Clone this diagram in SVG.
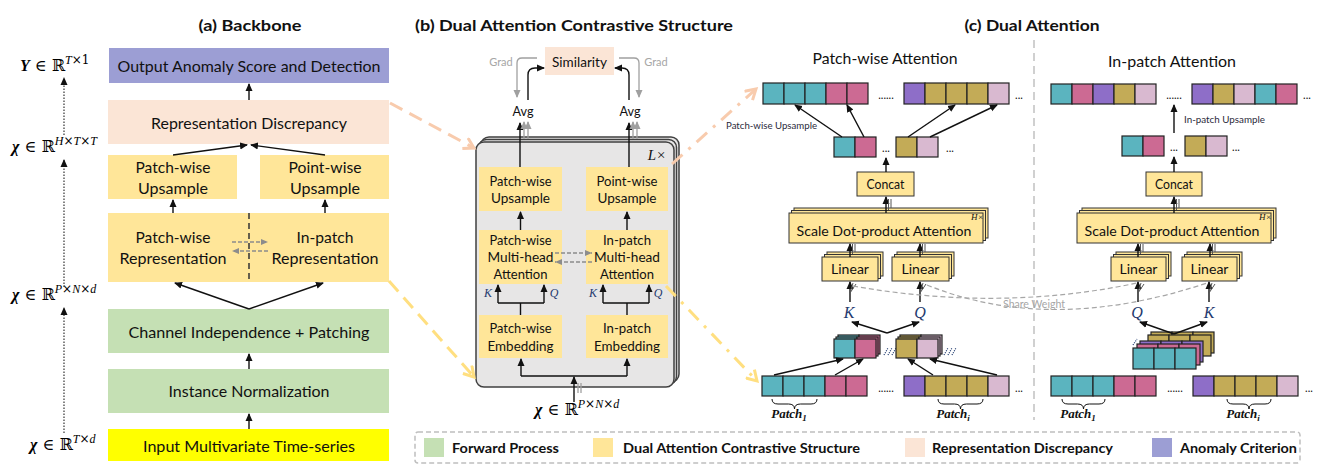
<svg xmlns="http://www.w3.org/2000/svg" width="1341" height="473" viewBox="0 0 1341 473">
<defs>
<style>
text{font-family:Lato,"Open Sans","Liberation Sans",sans-serif;fill:#111;}
.c{text-anchor:middle;dominant-baseline:central;}
.title{font-size:16px;font-weight:700;}
.f15{font-size:15px;}
.f14{font-size:14px;}
.f13{font-size:13.5px;}
.sm{font-size:9.5px;fill:#2a2a3a;}
.gr{font-size:11px;fill:#a6a6a6;}
.dots{font-size:11px;fill:#111;}
.math{font-family:"DejaVu Serif","Liberation Serif",serif;font-size:16px;fill:#000;}
.sup{font-size:12px;}
.var{font-family:"Liberation Serif","DejaVu Serif",serif;font-style:italic;}
.kq{font-family:"Liberation Serif","DejaVu Serif",serif;font-style:italic;fill:#1f3a6e;}
.pt{font-family:"Liberation Serif","DejaVu Serif",serif;font-style:italic;font-weight:700;font-size:13px;fill:#111;text-anchor:middle;}
.leg{font-size:14px;font-weight:700;dominant-baseline:central;}
.pur{fill:#9c9ed4}.pea{fill:#fbe5d6}.yel{fill:#ffe699}.grn{fill:#c5e0b4}.ylw{fill:#ffff00}
.ln{stroke:#111;stroke-width:1.4;fill:none}
.lg{stroke:#a0a0a0;stroke-width:1.3;fill:none}
.dg{stroke:#8c8c8c;stroke-width:1.3;fill:none;stroke-dasharray:4 2}
.cell{stroke:#222;stroke-width:1.2}
.T{fill:#5bb4bf}.P{fill:#cc6a93}.U{fill:#8e6ec8}.O{fill:#c3ab57}.L{fill:#d9b9d0}
.bx{fill:#ffe699;stroke:#333;stroke-width:1}
.stk{fill:#e7e6e6;stroke:#404040;stroke-width:1.5}
.brace{stroke:#111;stroke-width:1;fill:none}
</style>
<marker id="ah" markerWidth="8" markerHeight="8" refX="7" refY="4" orient="auto" markerUnits="userSpaceOnUse"><path d="M0,0.5 L8,4 L0,7.5 z" fill="#111"/></marker>
<marker id="ahg" markerWidth="8" markerHeight="8" refX="7" refY="4" orient="auto" markerUnits="userSpaceOnUse"><path d="M0,0.5 L8,4 L0,7.5 z" fill="#a0a0a0"/></marker>
<marker id="ahd" markerWidth="8" markerHeight="8" refX="7" refY="4" orient="auto" markerUnits="userSpaceOnUse"><path d="M0,1 L7,4 L0,7 z" fill="#8c8c8c"/></marker>
<marker id="chp" markerWidth="14" markerHeight="14" refX="11" refY="7" orient="auto" markerUnits="userSpaceOnUse"><path d="M1,1 L11,7 L1,13" fill="none" stroke="#f8cbad" stroke-width="3"/></marker>
<marker id="chy" markerWidth="14" markerHeight="14" refX="11" refY="7" orient="auto" markerUnits="userSpaceOnUse"><path d="M1,1 L11,7 L1,13" fill="none" stroke="#ffdf80" stroke-width="3"/></marker>
</defs>
<rect width="1341" height="473" fill="#fff"/>

<!-- Panel (a) -->
<g id="a-title"><text class="title c" x="250" y="24" textLength="103" lengthAdjust="spacingAndGlyphs">(a) Backbone</text></g>
<g id="a-output"><rect x="109" y="48" width="280" height="35" class="pur"/><text class="c f15" x="249" y="66" textLength="263" lengthAdjust="spacingAndGlyphs">Output Anomaly Score and Detection</text></g>
<g id="a-repdisc"><rect x="108" y="100" width="281" height="44" class="pea"/><text class="c f15" x="249" y="123" textLength="196" lengthAdjust="spacingAndGlyphs">Representation Discrepancy</text></g>
<g id="a-pw-up"><rect x="108" y="155" width="129" height="44" class="yel"/><text class="c f15" x="173" y="167" textLength="75" lengthAdjust="spacingAndGlyphs">Patch-wise</text><text class="c f15" x="173" y="188" textLength="70" lengthAdjust="spacingAndGlyphs">Upsample</text></g>
<g id="a-pt-up"><rect x="260" y="155" width="129" height="44" class="yel"/><text class="c f15" x="325" y="167" textLength="73" lengthAdjust="spacingAndGlyphs">Point-wise</text><text class="c f15" x="325" y="188" textLength="70" lengthAdjust="spacingAndGlyphs">Upsample</text></g>
<g id="a-repr"><rect x="108" y="213" width="281" height="69" class="yel"/>
<line x1="249" y1="213" x2="249" y2="282" stroke="#333" stroke-width="1.5" stroke-dasharray="6 4"/>
<text class="c f15" x="173" y="237" textLength="75" lengthAdjust="spacingAndGlyphs">Patch-wise</text><text class="c f15" x="173" y="258" textLength="107" lengthAdjust="spacingAndGlyphs">Representation</text>
<text class="c f15" x="325" y="237" textLength="57" lengthAdjust="spacingAndGlyphs">In-patch</text><text class="c f15" x="325" y="258" textLength="107" lengthAdjust="spacingAndGlyphs">Representation</text>
<line class="dg" x1="232" y1="242" x2="268" y2="242" marker-end="url(#ahd)"/><line class="dg" x1="268" y1="251" x2="232" y2="251" marker-end="url(#ahd)"/>
</g>
<g id="a-ci"><rect x="108" y="309" width="281" height="44" class="grn"/><text class="c f15" x="249" y="332" textLength="241" lengthAdjust="spacingAndGlyphs">Channel Independence + Patching</text></g>
<g id="a-in"><rect x="108" y="369" width="281" height="44" class="grn"/><text class="c f15" x="249" y="391" textLength="161" lengthAdjust="spacingAndGlyphs">Instance Normalization</text></g>
<g id="a-input"><rect x="108" y="429" width="281" height="32" class="ylw"/><text class="c f15" x="249" y="446" textLength="212" lengthAdjust="spacingAndGlyphs">Input Multivariate Time-series</text></g>

<g id="a-dims">
<text class="math" x="20" y="71"><tspan class="var" font-weight="700">Y</tspan> ∈ ℝ<tspan class="var sup" dy="-7">T</tspan><tspan class="sup">×1</tspan></text>
<text class="math" x="12" y="152"><tspan class="var" font-weight="700">χ</tspan> ∈ ℝ<tspan class="var sup" dy="-7">H</tspan><tspan class="sup">×</tspan><tspan class="var sup">T</tspan><tspan class="sup">×</tspan><tspan class="var sup">T</tspan></text>
<text class="math" x="12" y="300"><tspan class="var" font-weight="700">χ</tspan> ∈ ℝ<tspan class="var sup" dy="-7">P</tspan><tspan class="sup">×</tspan><tspan class="var sup">N</tspan><tspan class="sup">×</tspan><tspan class="var sup">d</tspan></text>
<text class="math" x="30" y="450"><tspan class="var" font-weight="700">χ</tspan> ∈ ℝ<tspan class="var sup" dy="-7">T</tspan><tspan class="sup">×</tspan><tspan class="var sup">d</tspan></text>
</g>

<!-- Panel (b) -->
<g id="b-title"><text class="title c" x="574" y="24" textLength="318" lengthAdjust="spacingAndGlyphs">(b) Dual Attention Contrastive Structure</text></g>
<g id="b-stack">
<rect x="481" y="137" width="198" height="245" rx="8" class="stk"/>
<rect x="478.5" y="139.5" width="198" height="245" rx="8" class="stk"/>
<rect x="476" y="142" width="198" height="245" rx="8" class="stk"/>
<text class="var c" x="657" y="155" font-size="15" fill="#111">L×</text>
</g>
<g id="b-sim"><rect x="545" y="47" width="69" height="28" class="pea"/><text class="c f14" x="579.5" y="61" textLength="55" lengthAdjust="spacingAndGlyphs">Similarity</text></g>
<g id="b-grad"><text class="gr c" x="501" y="61">Grad</text><text class="gr c" x="656" y="61">Grad</text></g>
<g id="b-avg1"><text class="c f14" x="523" y="110" textLength="21" lengthAdjust="spacingAndGlyphs">Avg</text></g>
<g id="b-avg2"><text class="c f14" x="630" y="110" textLength="21" lengthAdjust="spacingAndGlyphs">Avg</text></g>
<g id="b-pw-up"><rect x="479" y="167" width="83" height="44" class="yel"/><text class="c f13" x="520.5" y="181" textLength="62" lengthAdjust="spacingAndGlyphs">Patch-wise</text><text class="c f13" x="520.5" y="198" textLength="59" lengthAdjust="spacingAndGlyphs">Upsample</text></g>
<g id="b-pt-up"><rect x="586" y="167" width="82" height="44" class="yel"/><text class="c f13" x="627" y="181" textLength="61" lengthAdjust="spacingAndGlyphs">Point-wise</text><text class="c f13" x="627" y="198" textLength="59" lengthAdjust="spacingAndGlyphs">Upsample</text></g>
<g id="b-pw-att"><rect x="479" y="230" width="83" height="54" class="yel"/><text class="c f13" x="520.5" y="240" textLength="62" lengthAdjust="spacingAndGlyphs">Patch-wise</text><text class="c f13" x="520.5" y="257" textLength="66" lengthAdjust="spacingAndGlyphs">Multi-head</text><text class="c f13" x="520.5" y="274" textLength="54" lengthAdjust="spacingAndGlyphs">Attention</text></g>
<g id="b-ip-att"><rect x="586" y="230" width="82" height="54" class="yel"/><text class="c f13" x="627" y="240" textLength="48" lengthAdjust="spacingAndGlyphs">In-patch</text><text class="c f13" x="627" y="257" textLength="66" lengthAdjust="spacingAndGlyphs">Multi-head</text><text class="c f13" x="627" y="274" textLength="54" lengthAdjust="spacingAndGlyphs">Attention</text></g>
<g id="b-pw-emb"><rect x="479" y="315" width="83" height="43" class="yel"/><text class="c f13" x="520.5" y="328" textLength="62" lengthAdjust="spacingAndGlyphs">Patch-wise</text><text class="c f13" x="520.5" y="346" textLength="66" lengthAdjust="spacingAndGlyphs">Embedding</text></g>
<g id="b-ip-emb"><rect x="586" y="315" width="82" height="43" class="yel"/><text class="c f13" x="627" y="328" textLength="48" lengthAdjust="spacingAndGlyphs">In-patch</text><text class="c f13" x="627" y="346" textLength="66" lengthAdjust="spacingAndGlyphs">Embedding</text></g>
<g id="b-kq"><text class="kq c" x="488" y="293" font-size="12">K</text><text class="kq c" x="554" y="293" font-size="12">Q</text><text class="kq c" x="593" y="293" font-size="12">K</text><text class="kq c" x="658" y="293" font-size="12">Q</text></g>
<g id="b-input"><text class="math" x="535" y="415"><tspan class="var" font-weight="700">χ</tspan> ∈ ℝ<tspan class="var sup" dy="-7">P</tspan><tspan class="sup">×</tspan><tspan class="var sup">N</tspan><tspan class="sup">×</tspan><tspan class="var sup">d</tspan></text></g>

<!-- Panel (c) -->
<g id="c-title"><text class="title c" x="1032" y="24" textLength="135" lengthAdjust="spacingAndGlyphs">(c) Dual Attention</text></g>
<g id="c-divider"><line x1="1034" y1="40" x2="1034" y2="420" stroke="#d0d0d0" stroke-width="2" stroke-dasharray="8 5"/></g>
<g id="c-pw-head"><text class="c f15" x="885" y="58" textLength="145" lengthAdjust="spacingAndGlyphs">Patch-wise Attention</text></g>
<g id="c-ip-head"><text class="c f15" x="1172" y="61" textLength="128" lengthAdjust="spacingAndGlyphs">In-patch Attention</text></g>

<g id="c-pw-top">
<rect class="cell T" x="763" y="83" width="21" height="21"/><rect class="cell T" x="784" y="83" width="21" height="21"/><rect class="cell T" x="805" y="83" width="21" height="21"/><rect class="cell P" x="826" y="83" width="21" height="21"/><rect class="cell P" x="847" y="83" width="21" height="21"/>
<text class="dots" x="886" y="99" text-anchor="middle">......</text>
<rect class="cell U" x="904" y="83" width="21" height="21"/><rect class="cell O" x="925" y="83" width="21" height="21"/><rect class="cell O" x="946" y="83" width="21" height="21"/><rect class="cell O" x="967" y="83" width="21" height="21"/><rect class="cell L" x="988" y="83" width="21" height="21"/>
<text class="dots" x="1019" y="99" text-anchor="middle">...</text>
</g>
<g id="c-pw-upsample-label"><text class="sm" x="726" y="129" textLength="91" lengthAdjust="spacingAndGlyphs">Patch-wise Upsample</text></g>
<g id="c-pw-mid">
<rect class="cell T" x="834" y="137" width="21" height="20"/><rect class="cell P" x="855" y="137" width="21" height="20"/>
<text class="dots" x="886" y="152" text-anchor="middle">...</text>
<rect class="cell O" x="896" y="137" width="21" height="20"/><rect class="cell L" x="917" y="137" width="21" height="20"/>
<text class="dots" x="950" y="152" text-anchor="middle">...</text>
</g>
<g id="c-pw-concat"><rect class="bx" x="857" y="172" width="57" height="24"/><text class="c f13" x="885.5" y="184" textLength="38" lengthAdjust="spacingAndGlyphs">Concat</text></g>
<g id="c-pw-sdpa">
<rect class="bx" x="794" y="208" width="194" height="30"/><rect class="bx" x="791.5" y="210.5" width="194" height="30"/><rect class="bx" x="789" y="213" width="194" height="30"/>
<text class="c f14" x="884" y="230" textLength="175" lengthAdjust="spacingAndGlyphs">Scale Dot-product Attention</text>
<text class="var" x="971" y="220" font-size="9" fill="#111">H×</text>
</g>
<g id="c-pw-lin-k"><rect class="bx" x="827" y="252" width="56" height="24"/><rect class="bx" x="824.5" y="254.5" width="56" height="24"/><rect class="bx" x="822" y="257" width="56" height="24"/><text class="c f13" x="850" y="269" textLength="38" lengthAdjust="spacingAndGlyphs">Linear</text></g>
<g id="c-pw-lin-q"><rect class="bx" x="897" y="252" width="57" height="24"/><rect class="bx" x="894.5" y="254.5" width="57" height="24"/><rect class="bx" x="892" y="257" width="57" height="24"/><text class="c f13" x="920.5" y="269" textLength="38" lengthAdjust="spacingAndGlyphs">Linear</text></g>
<g id="c-pw-kq"><text class="kq c" x="849" y="312" font-size="16">K</text><text class="kq c" x="920" y="312" font-size="16">Q</text></g>
<g id="c-pw-stack">
<rect class="cell T" x="838" y="335" width="21" height="19"/><rect class="cell P" x="859" y="335" width="21" height="19"/>
<rect class="cell T" x="836" y="337" width="21" height="19"/><rect class="cell P" x="857" y="337" width="21" height="19"/>
<rect class="cell T" x="834" y="339" width="21" height="19"/><rect class="cell P" x="855" y="339" width="21" height="19"/>
<path d="M884,355 L888,348 M888,355 L892,348 M892,355 L896,348" stroke="#1f3a6e" stroke-width="1.2" stroke-dasharray="1 1.2" fill="none"/>
<rect class="cell O" x="900" y="335" width="21" height="19"/><rect class="cell L" x="921" y="335" width="21" height="19"/>
<rect class="cell O" x="898" y="337" width="21" height="19"/><rect class="cell L" x="919" y="337" width="21" height="19"/>
<rect class="cell O" x="896" y="339" width="21" height="19"/><rect class="cell L" x="917" y="339" width="21" height="19"/>
<path d="M944,355 L948,348 M948,355 L952,348 M952,355 L956,348" stroke="#1f3a6e" stroke-width="1.2" stroke-dasharray="1 1.2" fill="none"/>
</g>
<g id="c-pw-bottom">
<rect class="cell T" x="762" y="376" width="21" height="20"/><rect class="cell T" x="783" y="376" width="21" height="20"/><rect class="cell T" x="804" y="376" width="21" height="20"/><rect class="cell P" x="825" y="376" width="21" height="20"/><rect class="cell P" x="846" y="376" width="21" height="20"/>
<text class="dots" x="886" y="392" text-anchor="middle">......</text>
<rect class="cell U" x="904" y="376" width="21" height="20"/><rect class="cell O" x="925" y="376" width="21" height="20"/><rect class="cell O" x="946" y="376" width="21" height="20"/><rect class="cell O" x="967" y="376" width="21" height="20"/><rect class="cell L" x="988" y="376" width="21" height="20"/>
<text class="dots" x="1019" y="392" text-anchor="middle">...</text>
<path class="brace" d="M772,399 Q772,404 778,404 L788.5,404 Q794.5,404 794.5,409 Q794.5,404 800.5,404 L811,404 Q817,404 817,399"/>
<path class="brace" d="M938,399 Q938,404 944,404 L954.5,404 Q960.5,404 960.5,409 Q960.5,404 966.5,404 L977,404 Q983,404 983,399"/>
<text class="pt" x="789" y="418">Patch<tspan font-size="9" dy="3">1</tspan></text>
<text class="pt" x="953" y="418">Patch<tspan font-size="9" dy="3">i</tspan></text>
</g>

<g id="c-ip-top">
<rect class="cell T" x="1051" y="84" width="21" height="20"/><rect class="cell P" x="1072" y="84" width="21" height="20"/><rect class="cell U" x="1093" y="84" width="21" height="20"/><rect class="cell O" x="1114" y="84" width="21" height="20"/><rect class="cell L" x="1135" y="84" width="21" height="20"/>
<text class="dots" x="1174" y="99" text-anchor="middle">......</text>
<rect class="cell U" x="1192" y="84" width="21" height="20"/><rect class="cell O" x="1213" y="84" width="21" height="20"/><rect class="cell L" x="1234" y="84" width="21" height="20"/><rect class="cell T" x="1255" y="84" width="21" height="20"/><rect class="cell P" x="1276" y="84" width="21" height="20"/>
<text class="dots" x="1307" y="99" text-anchor="middle">...</text>
</g>
<g id="c-ip-upsample-label"><text class="sm" x="1184" y="123" textLength="81" lengthAdjust="spacingAndGlyphs">In-patch Upsample</text></g>
<g id="c-ip-mid">
<rect class="cell T" x="1122" y="136" width="21" height="20"/><rect class="cell P" x="1143" y="136" width="21" height="20"/>
<text class="dots" x="1174" y="151" text-anchor="middle">...</text>
<rect class="cell O" x="1185" y="136" width="21" height="20"/><rect class="cell L" x="1206" y="136" width="21" height="20"/>
<text class="dots" x="1236" y="151" text-anchor="middle">...</text>
</g>
<g id="c-ip-concat"><rect class="bx" x="1146" y="172" width="56" height="24"/><text class="c f13" x="1174" y="184" textLength="38" lengthAdjust="spacingAndGlyphs">Concat</text></g>
<g id="c-ip-sdpa">
<rect class="bx" x="1082" y="208" width="194" height="30"/><rect class="bx" x="1079.5" y="210.5" width="194" height="30"/><rect class="bx" x="1077" y="213" width="194" height="30"/>
<text class="c f14" x="1172" y="230" textLength="175" lengthAdjust="spacingAndGlyphs">Scale Dot-product Attention</text>
<text class="var" x="1259" y="220" font-size="9" fill="#111">H×</text>
</g>
<g id="c-ip-lin-q"><rect class="bx" x="1116" y="252" width="55" height="24"/><rect class="bx" x="1113.5" y="254.5" width="55" height="24"/><rect class="bx" x="1111" y="257" width="55" height="24"/><text class="c f13" x="1138.5" y="269" textLength="38" lengthAdjust="spacingAndGlyphs">Linear</text></g>
<g id="c-ip-lin-k"><rect class="bx" x="1187" y="252" width="55" height="24"/><rect class="bx" x="1184.5" y="254.5" width="55" height="24"/><rect class="bx" x="1182" y="257" width="55" height="24"/><text class="c f13" x="1209.5" y="269" textLength="38" lengthAdjust="spacingAndGlyphs">Linear</text></g>
<g id="c-ip-kq"><text class="kq c" x="1137" y="312" font-size="16">Q</text><text class="kq c" x="1209" y="312" font-size="16">K</text></g>
<g id="c-ip-stack">
<rect class="cell O" x="1151" y="332" width="21" height="21"/><rect class="cell O" x="1172" y="332" width="21" height="21"/><rect class="cell O" x="1193" y="332" width="21" height="21"/>
<rect class="cell O" x="1148" y="335" width="21" height="21"/><rect class="cell O" x="1169" y="335" width="21" height="21"/><rect class="cell O" x="1190" y="335" width="21" height="21"/>
<rect class="cell U" x="1140" y="341" width="21" height="21"/><rect class="cell U" x="1161" y="341" width="21" height="21"/><rect class="cell U" x="1182" y="341" width="21" height="21"/>
<rect class="cell P" x="1137" y="344" width="21" height="21"/><rect class="cell P" x="1158" y="344" width="21" height="21"/><rect class="cell P" x="1179" y="344" width="21" height="21"/>
<rect class="cell T" x="1133" y="348" width="21" height="21"/><rect class="cell T" x="1154" y="348" width="21" height="21"/><rect class="cell T" x="1175" y="348" width="21" height="21"/>
<path d="M1133,345 L1137,339" stroke="#1f3a6e" stroke-width="1.2" stroke-dasharray="1 1.2" fill="none"/>
</g>
<g id="c-ip-bottom">
<rect class="cell T" x="1051" y="376" width="21" height="20"/><rect class="cell T" x="1072" y="376" width="21" height="20"/><rect class="cell T" x="1093" y="376" width="21" height="20"/><rect class="cell P" x="1114" y="376" width="21" height="20"/><rect class="cell P" x="1135" y="376" width="21" height="20"/>
<text class="dots" x="1175" y="392" text-anchor="middle">......</text>
<rect class="cell U" x="1193" y="376" width="21" height="20"/><rect class="cell O" x="1214" y="376" width="21" height="20"/><rect class="cell O" x="1235" y="376" width="21" height="20"/><rect class="cell O" x="1256" y="376" width="21" height="20"/><rect class="cell L" x="1277" y="376" width="21" height="20"/>
<text class="dots" x="1309" y="392" text-anchor="middle">...</text>
<path class="brace" d="M1062,399 Q1062,404 1068,404 L1077.5,404 Q1083.5,404 1083.5,409 Q1083.5,404 1089.5,404 L1099,404 Q1105,404 1105,399"/>
<path class="brace" d="M1227,399 Q1227,404 1233,404 L1243,404 Q1249,404 1249,409 Q1249,404 1255,404 L1265,404 Q1271,404 1271,399"/>
<text class="pt" x="1078" y="418">Patch<tspan font-size="9" dy="3">1</tspan></text>
<text class="pt" x="1243" y="418">Patch<tspan font-size="9" dy="3">i</tspan></text>
</g>

<g id="legend">
<rect x="415" y="432" width="885" height="31" rx="3" fill="none" stroke="#bfbfbf" stroke-width="1.5" stroke-dasharray="5 3"/>
<rect x="424" y="438" width="20" height="19" class="grn"/><text class="leg" x="452" y="447" textLength="107" lengthAdjust="spacingAndGlyphs">Forward Process</text>
<rect x="593" y="438" width="20" height="19" class="yel"/><text class="leg" x="623" y="447" textLength="237" lengthAdjust="spacingAndGlyphs">Dual Attention Contrastive Structure</text>
<rect x="905" y="438" width="20" height="19" class="pea"/><text class="leg" x="932" y="447" textLength="181" lengthAdjust="spacingAndGlyphs">Representation Discrepancy</text>
<rect x="1152" y="438" width="20" height="19" class="pur"/><text class="leg" x="1180" y="447" textLength="117" lengthAdjust="spacingAndGlyphs">Anomaly Criterion</text>
</g>

<g id="connectors">
<!-- (a) -->
<line class="ln" x1="249" y1="100" x2="249" y2="84" marker-end="url(#ah)"/>
<line class="ln" x1="173" y1="155" x2="247" y2="145" marker-end="url(#ah)"/>
<line class="ln" x1="325" y1="155" x2="251" y2="145" marker-end="url(#ah)"/>
<line class="ln" x1="173" y1="213" x2="173" y2="200" marker-end="url(#ah)"/>
<line class="ln" x1="325" y1="213" x2="325" y2="200" marker-end="url(#ah)"/>
<line class="ln" x1="249" y1="309" x2="175" y2="283" marker-end="url(#ah)"/>
<line class="ln" x1="249" y1="309" x2="323" y2="283" marker-end="url(#ah)"/>
<line class="ln" x1="249" y1="369" x2="249" y2="354" marker-end="url(#ah)"/>
<line class="ln" x1="249" y1="429" x2="249" y2="414" marker-end="url(#ah)"/>
<line x1="64" y1="135" x2="64" y2="78" stroke="#333" stroke-width="1.2" stroke-dasharray="1.5 1.5" marker-end="url(#ah)"/>
<line x1="64" y1="287" x2="64" y2="160" stroke="#333" stroke-width="1.2" stroke-dasharray="1.5 1.5" marker-end="url(#ah)"/>
<line x1="64" y1="433" x2="64" y2="308" stroke="#333" stroke-width="1.2" stroke-dasharray="1.5 1.5" marker-end="url(#ah)"/>
<!-- (a)->(b) and (b)->(c) -->
<line x1="390" y1="103" x2="474" y2="148" stroke="#f8cbad" stroke-width="3" stroke-dasharray="14 8" marker-end="url(#chp)"/>
<line x1="389" y1="281" x2="474" y2="377" stroke="#ffdf80" stroke-width="3" stroke-dasharray="14 8" marker-end="url(#chy)"/>
<line x1="672" y1="164" x2="756" y2="89" stroke="#f8cbad" stroke-width="3" stroke-dasharray="14 8 3 8" marker-end="url(#chp)"/>
<line x1="666" y1="286" x2="757" y2="381" stroke="#ffdf80" stroke-width="3" stroke-dasharray="14 8 3 8" marker-end="url(#chy)"/>
<!-- (b) -->
<line class="ln" x1="520" y1="167" x2="520" y2="123" marker-end="url(#ah)"/>
<line class="lg" x1="524" y1="139" x2="524" y2="122" marker-end="url(#ahg)"/>
<line class="lg" x1="528" y1="139" x2="528" y2="122" marker-end="url(#ahg)"/>
<line class="ln" x1="629" y1="167" x2="629" y2="123" marker-end="url(#ah)"/>
<line class="lg" x1="633" y1="139" x2="633" y2="122" marker-end="url(#ahg)"/>
<line class="lg" x1="637" y1="139" x2="637" y2="122" marker-end="url(#ahg)"/>
<path class="ln" d="M528,100 V75 Q528,68 535,68 H544" marker-end="url(#ah)"/>
<path class="ln" d="M629,100 V75 Q629,68 622,68 H615" marker-end="url(#ah)"/>
<path class="lg" d="M537,58 H522 Q517,58 517,63 V97" marker-end="url(#ahg)"/>
<path class="lg" d="M619,58 H634 Q639,58 639,63 V97" marker-end="url(#ahg)"/>
<line class="ln" x1="520.5" y1="230" x2="520.5" y2="212" marker-end="url(#ah)"/>
<line class="ln" x1="627" y1="230" x2="627" y2="212" marker-end="url(#ah)"/>
<line class="dg" x1="555" y1="253" x2="592" y2="253" marker-end="url(#ahd)"/>
<line class="dg" x1="592" y1="262" x2="555" y2="262" marker-end="url(#ahd)"/>
<path class="ln" d="M520.5,315 V303 M498,303 H544"/>
<line class="ln" x1="498" y1="303" x2="498" y2="285" marker-end="url(#ah)"/>
<line class="ln" x1="544" y1="303" x2="544" y2="285" marker-end="url(#ah)"/>
<path class="ln" d="M627,315 V303 M603,303 H649"/>
<line class="ln" x1="603" y1="303" x2="603" y2="285" marker-end="url(#ah)"/>
<line class="ln" x1="649" y1="303" x2="649" y2="285" marker-end="url(#ah)"/>
<path class="ln" d="M521,376 H627"/>
<line class="ln" x1="521" y1="376" x2="521" y2="359" marker-end="url(#ah)"/>
<line class="ln" x1="627" y1="376" x2="627" y2="359" marker-end="url(#ah)"/>
<line class="ln" x1="574" y1="402" x2="574" y2="377" marker-end="url(#ah)"/>
<line class="lg" x1="578" y1="393" x2="578" y2="383"/>
<line class="lg" x1="581" y1="393" x2="581" y2="383"/>
<!-- (c) patch-wise -->
<line class="ln" x1="842" y1="137" x2="795" y2="105" marker-end="url(#ah)"/>
<line class="ln" x1="864" y1="137" x2="847" y2="105" marker-end="url(#ah)"/>
<line class="ln" x1="908" y1="137" x2="955" y2="105" marker-end="url(#ah)"/>
<line class="ln" x1="930" y1="137" x2="997" y2="105" marker-end="url(#ah)"/>
<line class="ln" x1="886" y1="172" x2="886" y2="158" marker-end="url(#ah)"/>
<line class="ln" x1="886" y1="213" x2="886" y2="197" marker-end="url(#ah)"/>
<line x1="888.5" y1="210" x2="888.5" y2="199" stroke="#555" stroke-width="1"/>
<line x1="891" y1="208" x2="891" y2="199" stroke="#555" stroke-width="1"/>
<line class="ln" x1="850" y1="257" x2="850" y2="244" marker-end="url(#ah)"/>
<line x1="852.5" y1="254" x2="852.5" y2="244" stroke="#555" stroke-width="1"/>
<line x1="855" y1="252" x2="855" y2="244" stroke="#555" stroke-width="1"/>
<line class="ln" x1="920" y1="257" x2="920" y2="244" marker-end="url(#ah)"/>
<line x1="922.5" y1="254" x2="922.5" y2="244" stroke="#555" stroke-width="1"/>
<line x1="925" y1="252" x2="925" y2="244" stroke="#555" stroke-width="1"/>
<line class="ln" x1="850" y1="302" x2="850" y2="282" marker-end="url(#ah)"/>
<path d="M850,293 L853,283 M850,293 L856,284" stroke="#555" stroke-width="1" fill="none"/>
<line class="ln" x1="920" y1="302" x2="920" y2="282" marker-end="url(#ah)"/>
<path d="M920,293 L923,283 M920,293 L926,284" stroke="#555" stroke-width="1" fill="none"/>
<line class="ln" x1="887" y1="333" x2="852" y2="322" marker-end="url(#ah)"/>
<line class="ln" x1="887" y1="333" x2="919" y2="322" marker-end="url(#ah)"/>
<line class="ln" x1="774" y1="375" x2="843" y2="359" marker-end="url(#ah)"/>
<line class="ln" x1="835" y1="375" x2="863" y2="359" marker-end="url(#ah)"/>
<line class="ln" x1="933" y1="375" x2="908" y2="359" marker-end="url(#ah)"/>
<line class="ln" x1="997" y1="375" x2="930" y2="359" marker-end="url(#ah)"/>
<!-- (c) in-patch -->
<line class="ln" x1="1174" y1="133" x2="1174" y2="105" marker-end="url(#ah)"/>
<line class="ln" x1="1174" y1="172" x2="1174" y2="157" marker-end="url(#ah)"/>
<line class="ln" x1="1174" y1="213" x2="1174" y2="197" marker-end="url(#ah)"/>
<line x1="1176.5" y1="210" x2="1176.5" y2="199" stroke="#555" stroke-width="1"/>
<line x1="1179" y1="208" x2="1179" y2="199" stroke="#555" stroke-width="1"/>
<line class="ln" x1="1138" y1="257" x2="1138" y2="244" marker-end="url(#ah)"/>
<line x1="1140.5" y1="254" x2="1140.5" y2="244" stroke="#555" stroke-width="1"/>
<line x1="1143" y1="252" x2="1143" y2="244" stroke="#555" stroke-width="1"/>
<line class="ln" x1="1210" y1="257" x2="1210" y2="244" marker-end="url(#ah)"/>
<line x1="1212.5" y1="254" x2="1212.5" y2="244" stroke="#555" stroke-width="1"/>
<line x1="1215" y1="252" x2="1215" y2="244" stroke="#555" stroke-width="1"/>
<line class="ln" x1="1138" y1="302" x2="1138" y2="282" marker-end="url(#ah)"/>
<path d="M1138,293 L1141,283 M1138,293 L1144,284" stroke="#555" stroke-width="1" fill="none"/>
<line class="ln" x1="1209" y1="302" x2="1209" y2="282" marker-end="url(#ah)"/>
<path d="M1209,293 L1212,283 M1209,293 L1215,284" stroke="#555" stroke-width="1" fill="none"/>
<line class="ln" x1="1174" y1="334" x2="1140" y2="322" marker-end="url(#ah)"/>
<line class="ln" x1="1174" y1="334" x2="1207" y2="322" marker-end="url(#ah)"/>
<!-- share weight -->
<path d="M853,286 Q1000,312 1137,283" fill="none" stroke="#a6a6a6" stroke-width="1.2" stroke-dasharray="5 3"/>
<path d="M927,285 Q1050,335 1207,283" fill="none" stroke="#a6a6a6" stroke-width="1.2" stroke-dasharray="5 3"/>
<text class="gr c" x="1034" y="303" textLength="62" lengthAdjust="spacingAndGlyphs">Share Weight</text>
</g>
</svg>
